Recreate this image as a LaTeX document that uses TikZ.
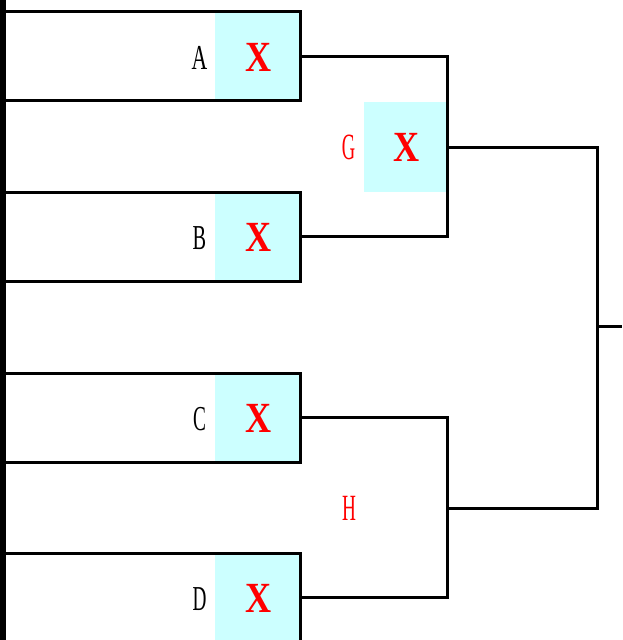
\documentclass[tikz,border=0pt]{standalone}
\usepackage{fontspec}
\setmainfont{Liberation Serif}
\definecolor{cyanbg}{HTML}{CCFFFF}
\definecolor{xred}{HTML}{FF0000}
\begin{document}
\begin{tikzpicture}[x=1pt,y=-1pt,
  entry/.style={draw=black,line width=3pt,minimum width=300pt,minimum height=89pt,inner sep=0pt},
  cyanbox/.style={fill=cyanbg,minimum width=84pt,minimum height=89pt,inner sep=0pt},
  lbl/.style={inner sep=0pt,font=\fontsize{35}{35}\selectfont},
  redlbl/.style={inner sep=0pt,text=xred,font=\fontsize{37}{37}\selectfont},
  xmark/.style={inner sep=0pt,text=xred,font=\fontsize{43}{43}\selectfont\bfseries},
  wire/.style={line width=3pt,line cap=rect}]
\useasboundingbox (0,0) rectangle (622,640);
\begin{scope}
\clip (0,0) rectangle (622,640);
% cyan backgrounds
\node[cyanbox] (cA) at (257,56) {};
\node[cyanbox] (cB) at (257,236.5) {};
\node[cyanbox] (cC) at (257,417.5) {};
\node[cyanbox] (cD) at (257,597.5) {};
\node[cyanbox,minimum width=83pt,minimum height=90pt] (cG) at (405.5,147) {};
% entry boxes
\node[entry] (A) at (150,56) {};
\node[entry] (B) at (150,236.5) {};
\node[entry] (C) at (150,417.5) {};
\node[entry] (D) at (150,597.5) {};
% labels
\node[lbl] (la) at (199.5,58.3) {\scalebox{0.62}[1]{A}};
\node[lbl] (lb) at (199.5,238.5) {\scalebox{0.58}[1]{B}};
\node[lbl] (lc) at (199.5,419.5) {\scalebox{0.55}[1]{C}};
\node[lbl] (ld) at (199.5,599.5) {\scalebox{0.55}[1]{D}};
\node[redlbl] (lg) at (348.5,147.5) {\scalebox{0.5}[1]{G}};
\node[redlbl] (lh) at (349,508.5) {\scalebox{0.52}[1]{H}};
\node[xmark] (xa) at (259,57) {\scalebox{0.84}[1]{X}};
\node[xmark] (xb) at (259,237.5) {\scalebox{0.84}[1]{X}};
\node[xmark] (xc) at (259,418.5) {\scalebox{0.84}[1]{X}};
\node[xmark] (xd) at (259,598.5) {\scalebox{0.84}[1]{X}};
\node[xmark] (xg) at (407,147.5) {\scalebox{0.84}[1]{X}};
% joints
\coordinate (gj) at (447.5,147);
\coordinate (hj) at (447.5,508);
\coordinate (fj) at (597,326);
\coordinate (out) at (622,326);
% connectors
\draw[wire] (A.east) -| (gj) |- (B.east);
\draw[wire] (C.east) -| (hj) |- (D.east);
\draw[wire] (gj) -| (fj) |- (hj);
\draw[wire,line cap=butt] (fj) -- (out);
% left bar
\fill[black] (0,0) rectangle (6,640);
\end{scope}
\end{tikzpicture}
\end{document}
